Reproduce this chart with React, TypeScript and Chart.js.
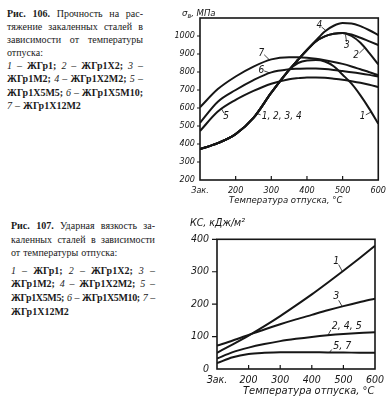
import React, { useEffect, useRef } from "react";
import { Chart, registerables } from "chart.js";

Chart.register(...registerables);

// ---------- Fig. 106: tensile strength (MPa) vs tempering temperature ----------
const temps106 = [100, 150, 200, 250, 300, 350, 375, 400, 425, 450, 475, 500, 525, 550, 575, 600];
const steel1_106 = [372, 405, 455, 545, 685, 812, 850, 864, 866, 858, 832, 785, 735, 670, 595, 512];
const steel2_106 = [372, 405, 455, 545, 685, 812, 868, 922, 970, 998, 1012, 1017, 1000, 962, 905, 842];
const steel3_106 = [372, 405, 455, 545, 685, 812, 868, 922, 970, 998, 1012, 1017, 1008, 990, 970, 950];
const steel4_106 = [372, 405, 455, 545, 685, 812, 868, 922, 975, 1025, 1057, 1072, 1070, 1055, 1032, 1005];
const steel5_106 = [472, 580, 645, 695, 735, 760, 766, 770, 770, 768, 763, 757, 749, 740, 729, 716];
const steel6_106 = [518, 635, 700, 755, 798, 815, 818, 820, 819, 816, 811, 805, 799, 792, 784, 775];
const steel7_106 = [604, 705, 775, 830, 870, 882, 882, 879, 873, 865, 856, 845, 831, 815, 799, 782];
const yTicks106 = [200, 300, 400, 500, 600, 700, 800, 900, 1000];

// curve labels: text, position [T, value], leader from -> to
const notes106 = [
  { text: "7", at: [272, 904], from: [280, 896], to: [294, 869], align: "center" },
  { text: "6", at: [272, 811], from: [280, 806], to: [294, 796], align: "center" },
  { text: "5", at: [173, 552], from: [167, 572], to: [160, 596], align: "center" },
  { text: "1, 2, 3, 4", at: [273, 556], from: [270, 562], to: [259, 570], align: "left" },
  { text: "4", at: [435, 1061], from: [441, 1050], to: [452, 1032], align: "center" },
  { text: "3", at: [512, 950], from: [511, 968], to: [508, 1008], align: "center" },
  { text: "2", at: [538, 892], from: [547, 905], to: [562, 934], align: "center" },
  { text: "1", at: [556, 552], from: [565, 562], to: [580, 578], align: "center" },
];

// ---------- Fig. 107: impact toughness KC (kJ/m2) vs tempering temperature ----------
const temps107 = [100, 150, 200, 250, 300, 350, 400, 450, 500, 550, 600];
const kc1 = [50, 76, 103, 132, 163, 196, 230, 266, 303, 341, 380];
const kc3 = [72, 88, 105, 122, 138, 153, 167, 181, 194, 206, 217];
const kc245 = [32, 52, 66, 77, 86, 93, 99, 104, 108, 111, 113];
const kc57 = [18, 36, 46, 50, 52, 52, 52, 51, 51, 50, 50];
const yTicks107 = [0, 100, 200, 300, 400];

const notes107 = [
  { text: "1", at: [477, 332], from: [485, 322], to: [496, 302], align: "center" },
  { text: "3", at: [477, 225], from: [485, 212], to: [496, 193], align: "center" },
  { text: "2, 4, 5", at: [463, 132], from: [460, 120], to: [451, 104], align: "left" },
  { text: "5, 7", at: [468, 70], from: [463, 60], to: [456, 51], align: "left" },
];

const xTicks = [100, 200, 300, 400, 500, 600];
const xTickLabels = ["Зак.", "200", "300", "400", "500", "600"];

const INK = "#161616";
const CHART_FONT = "'Liberation Sans Narrow', 'DejaVu Sans Condensed', 'Liberation Sans', sans-serif";
const SERIF = "'Liberation Serif', 'DejaVu Serif', serif";

function series(xs: number[], ys: number[]) {
  return xs.map((x, i) => ({ x, y: ys[i] }));
}

function framePlugin(notes: any[], fontSize: number, xTickLen: number, yTickLen: number) {
  return {
    id: "frame",
    afterDatasetsDraw(chart: any) {
      const { ctx, chartArea: a, scales } = chart;
      const xs = scales.x;
      const ys = scales.y;
      ctx.save();
      ctx.strokeStyle = INK;
      ctx.lineWidth = 1.6;
      ctx.strokeRect(a.left, a.top, a.right - a.left, a.bottom - a.top);
      ctx.lineWidth = 1.2;
      ctx.beginPath();
      xs.ticks.forEach((t: any) => {
        if (t.value > xs.min && t.value < xs.max) {
          const p = xs.getPixelForValue(t.value);
          ctx.moveTo(p, a.bottom);
          ctx.lineTo(p, a.bottom - xTickLen);
        }
      });
      ys.ticks.forEach((t: any) => {
        if (t.value > ys.min) {
          const p = ys.getPixelForValue(t.value);
          ctx.moveTo(a.left, p);
          ctx.lineTo(a.left - yTickLen, p);
        }
      });
      ctx.stroke();
      // curve labels
      ctx.fillStyle = INK;
      ctx.font = `italic ${fontSize}px ${CHART_FONT}`;
      ctx.textBaseline = "middle";
      ctx.lineWidth = 0.8;
      notes.forEach((n) => {
        ctx.beginPath();
        ctx.moveTo(xs.getPixelForValue(n.from[0]), ys.getPixelForValue(n.from[1]));
        ctx.lineTo(xs.getPixelForValue(n.to[0]), ys.getPixelForValue(n.to[1]));
        ctx.stroke();
        ctx.textAlign = n.align;
        ctx.fillText(n.text, xs.getPixelForValue(n.at[0]), ys.getPixelForValue(n.at[1]));
      });
      ctx.restore();
    },
  };
}

function buildConfig(opts: {
  datasets: { x: number[]; y: number[] }[];
  yMin: number;
  yMax: number;
  yTicks: number[];
  notes: any[];
  fontSize: number;
  noteSize: number;
  padding: { left: number; right: number; top: number; bottom: number };
  yWidth: number;
  xHeight: number;
  xPad: number;
  yPad: number;
  yTickLen: number;
}): any {
  const font = { family: CHART_FONT, size: opts.fontSize, style: "italic" as const };
  return {
    type: "line",
    data: {
      datasets: opts.datasets.map((d) => ({
        data: series(d.x, d.y),
        borderColor: INK,
        borderWidth: 2,
        pointRadius: 0,
        fill: false,
        cubicInterpolationMode: "monotone",
      })),
    },
    options: {
      responsive: false,
      animation: false,
      events: [],
      layout: { padding: opts.padding },
      plugins: { legend: { display: false }, tooltip: { enabled: false } },
      scales: {
        x: {
          type: "linear",
          min: 100,
          max: 600,
          afterBuildTicks: (s: any) => {
            s.ticks = xTicks.map((v) => ({ value: v }));
          },
          afterFit: (s: any) => {
            s.height = opts.xHeight;
          },
          grid: { display: false, drawTicks: false },
          border: { display: false },
          ticks: {
            padding: opts.xPad,
            font,
            color: INK,
            maxRotation: 0,
            autoSkip: false,
            callback: (_v: any, i: number) => xTickLabels[i],
          },
        },
        y: {
          type: "linear",
          min: opts.yMin,
          max: opts.yMax,
          afterBuildTicks: (s: any) => {
            s.ticks = opts.yTicks.map((v) => ({ value: v }));
          },
          afterFit: (s: any) => {
            s.width = opts.yWidth;
          },
          grid: { display: false, drawTicks: false },
          border: { display: false },
          ticks: {
            padding: opts.yPad,
            font,
            color: INK,
            autoSkip: false,
            callback: (v: any) => String(v),
          },
        },
      },
    },
    plugins: [framePlugin(opts.notes, opts.noteSize, 4, opts.yTickLen)],
  };
}

function ChartBox({ makeConfig, left, top, width, height }: any) {
  const ref = useRef<HTMLCanvasElement>(null);
  useEffect(() => {
    const chart = new Chart(ref.current as HTMLCanvasElement, makeConfig());
    return () => chart.destroy();
  }, []);
  return (
    <canvas
      ref={ref}
      width={width}
      height={height}
      style={{ position: "absolute", left, top, width, height }}
    />
  );
}

const caption106 = [
  { text: "Рис. 106. Прочность на рас-", justify: true },
  { text: "тяжение закаленных сталей в", justify: true },
  { text: "зависимости от температуры", justify: true },
  { text: "отпуска:", justify: false },
  { text: "1 – ЖГр1; 2 – ЖГр1Х2; 3 –", justify: true, list: true },
  { text: "ЖГр1М2; 4 – ЖГр1Х2М2; 5 –", justify: true, list: true },
  { text: "ЖГр1Х5М5; 6 – ЖГр1Х5М10;", justify: true, list: true },
  { text: "7 – ЖГр1Х12М2", justify: false, list: true },
];

const caption107 = [
  { text: "Рис. 107. Ударная вязкость за-", justify: true },
  { text: "каленных сталей в зависимости", justify: true },
  { text: "от температуры отпуска:", justify: false },
  { text: "1 – ЖГр1; 2 – ЖГр1Х2; 3 –", justify: true, list: true, gap: 4 },
  { text: "ЖГр1М2; 4 – ЖГр1Х2М2; 5 –", justify: true, list: true },
  { text: "ЖГр1Х5М5; 6 – ЖГр1Х5М10; 7 –", justify: true, list: true, tight: true },
  { text: "ЖГр1Х12М2", justify: false, list: true },
];

function Word({ w, list }: { w: string; list?: boolean }) {
  let style: React.CSSProperties = {};
  if (/^ЖГр/.test(w) || w === "Рис." || /^\d{3}\.$/.test(w)) style = { fontWeight: "bold" };
  else if (list && /^\d$/.test(w)) style = { fontStyle: "italic" };
  return <span style={style}>{w}</span>;
}

function Caption({ lines, left, top, width, lineHeight }: any) {
  return (
    <div style={{ position: "absolute", left, top, width, fontFamily: SERIF, fontSize: 10, color: "#1a1a1a" }}>
      {lines.map((l: any, i: number) => {
        const words = l.text.split(" ");
        return (
          <div
            key={i}
            style={{
              display: "flex",
              justifyContent: l.justify ? "space-between" : "flex-start",
              gap: l.justify ? 0 : 3,
              height: lineHeight,
              lineHeight: `${lineHeight}px`,
              whiteSpace: "nowrap",
              marginTop: l.gap || 0,
              letterSpacing: l.tight ? -0.35 : 0,
            }}
          >
            {words.map((w: string, j: number) => (
              <Word key={j} w={w} list={l.list} />
            ))}
          </div>
        );
      })}
    </div>
  );
}

const axisTitle = (size: number): React.CSSProperties => ({
  position: "absolute",
  fontFamily: CHART_FONT,
  fontStyle: "italic",
  fontSize: size,
  color: INK,
  whiteSpace: "nowrap",
  lineHeight: 1,
});

export default function App() {
  const make106 = () =>
    buildConfig({
      datasets: [
        { x: temps106, y: steel1_106 },
        { x: temps106, y: steel2_106 },
        { x: temps106, y: steel3_106 },
        { x: temps106, y: steel4_106 },
        { x: temps106, y: steel5_106 },
        { x: temps106, y: steel6_106 },
        { x: temps106, y: steel7_106 },
      ],
      yMin: 200,
      yMax: 1100,
      yTicks: yTicks106,
      notes: notes106,
      fontSize: 9,
      noteSize: 10,
      padding: { left: 0, right: 11, top: 18, bottom: 0 },
      yWidth: 30,
      xHeight: 20,
      xPad: 5,
      yPad: 5,
      yTickLen: 3,
    });
  const make107 = () =>
    buildConfig({
      datasets: [
        { x: temps107, y: kc1 },
        { x: temps107, y: kc3 },
        { x: temps107, y: kc245 },
        { x: temps107, y: kc57 },
      ],
      yMin: 0,
      yMax: 400,
      yTicks: yTicks107,
      notes: notes107,
      fontSize: 10.5,
      noteSize: 10.5,
      padding: { left: 0, right: 16, top: 13, bottom: 0 },
      yWidth: 37,
      xHeight: 21,
      xPad: 5,
      yPad: 8,
      yTickLen: 5,
    });

  return (
    <div style={{ position: "absolute", left: 0, top: 0, width: 391, height: 400, background: "#fff", overflow: "hidden" }}>
      <Caption lines={caption106} left={7} top={6.5} width={136} lineHeight={13.2} />
      <Caption lines={caption107} left={11} top={219} width={144} lineHeight={13.6} />

      <ChartBox makeConfig={make106} left={170} top={0} width={221} height={200} />
      <ChartBox makeConfig={make107} left={180} top={225} width={211} height={165} />

      <div style={{ ...axisTitle(9.5), left: 182, top: 8 }}>
        σ<span style={{ fontSize: 7, position: "relative", top: 2 }}>в</span>, МПа
      </div>
      <div style={{ ...axisTitle(9.5), left: 229, top: 195 }}>Температура отпуска, °С</div>
      <div style={{ ...axisTitle(10.5), left: 190, top: 217 }}>КС, кДж/м²</div>
      <div style={{ ...axisTitle(11), left: 243, top: 385 }}>Температура отпуска, °С</div>
    </div>
  );
}
